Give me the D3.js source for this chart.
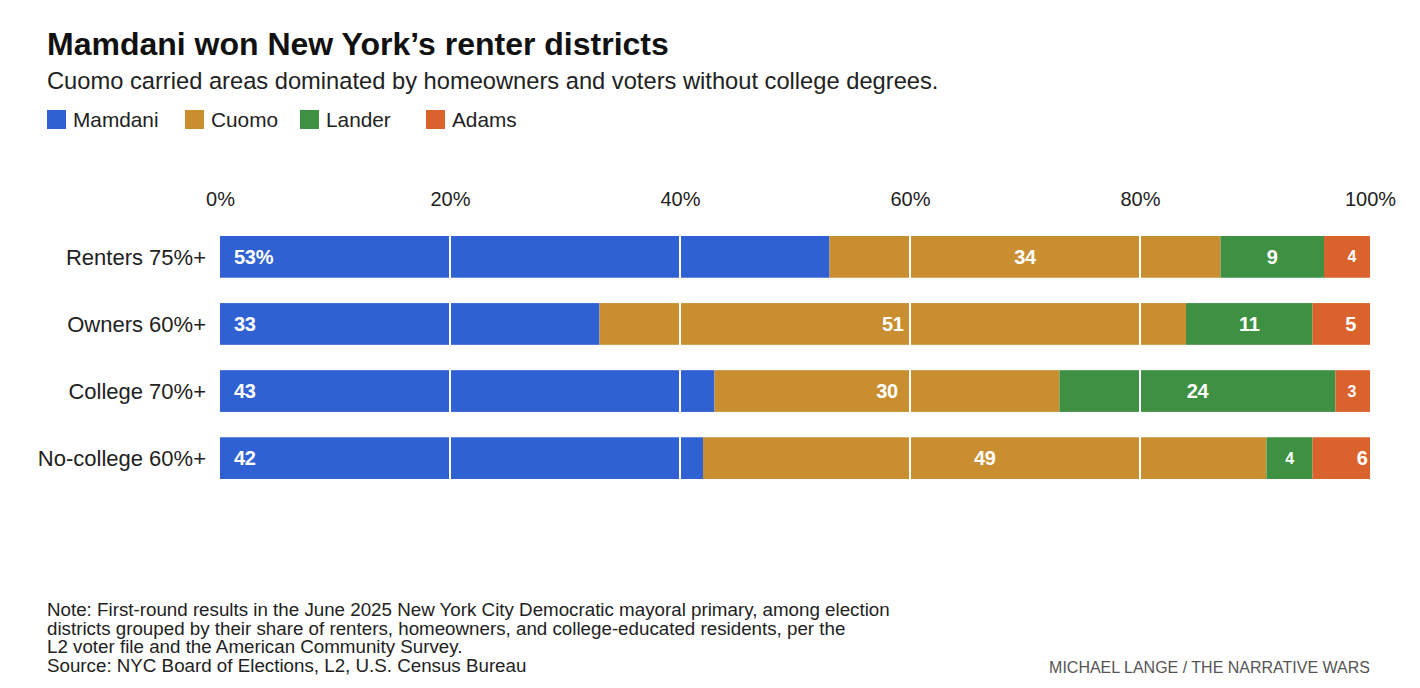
<!DOCTYPE html>
<html>
<head>
<meta charset="utf-8">
<script src="https://cdn.jsdelivr.net/npm/d3@7"></script>
<style>
  body { margin: 0; background: #fff; }
  svg { font-family: "Liberation Sans", Arial, sans-serif; display: block; }
</style>
</head>
<body>
<div id="chart"></div>
<script>
// data
const groups = ["Renters 75%+", "Owners 60%+", "College 70%+", "No-college 60%+"];
const candidates = ["Mamdani", "Cuomo", "Lander", "Adams"];
const mamdani = [53, 33, 43, 42];
const cuomo = [34, 51, 30, 49];
const lander = [9, 11, 24, 4];
const adams = [4, 5, 3, 6];
const tickValues = [0, 20, 40, 60, 80, 100];
const gridValues = [20, 40, 60, 80];

const colors = ["#3061d2", "#c88e2f", "#3e9142", "#da622c"];
const series = [mamdani, cuomo, lander, adams];

const rows = groups.map((g, i) => {
  let r = { group: g };
  candidates.forEach((c, j) => r[c] = series[j][i]);
  return r;
});

const W = 1420, H = 688;
const svg = d3.select('#chart').append('svg')
  .attr('width', W).attr('height', H)
  .attr('viewBox', `0 0 ${W} ${H}`);

// header
svg.append('text').attr('x', 47).attr('y', 55)
  .attr('font-size', 32).attr('font-weight', 700).attr('fill', '#111')
  .text("Mamdani won New York’s renter districts");
svg.append('text').attr('x', 47).attr('y', 89)
  .attr('font-size', 23.7).attr('fill', '#222')
  .text("Cuomo carried areas dominated by homeowners and voters without college degrees.");

// legend
const legendX = [47, 185, 300, 426];
const legend = svg.append('g').selectAll('g').data(candidates).join('g')
  .attr('transform', (d, i) => `translate(${legendX[i]},110)`);
legend.append('rect').attr('width', 19).attr('height', 19).attr('fill', (d, i) => colors[i]);
legend.append('text').attr('x', 26).attr('y', 17)
  .attr('font-size', 20.8).attr('fill', '#222').text(d => d);

// scales
const x = d3.scaleLinear().domain([0, 100]).range([220, 1370]).clamp(true);
const xRaw = d3.scaleLinear().domain([0, 100]).range([220, 1370]);
const y = d3.scaleBand().domain(groups).range([236, 479]).paddingInner(0.378).paddingOuter(0);

// top axis
const axis = svg.append('g').attr('transform', 'translate(0,206)')
  .call(d3.axisTop(x).tickValues(tickValues).tickFormat(d => d + '%').tickSize(0).tickPadding(0));
axis.select('.domain').remove();
axis.selectAll('text').attr('font-size', 20).attr('fill', '#222')
  .attr('font-family', '"Liberation Sans", Arial, sans-serif').attr('dy', 0);

// row labels
svg.append('g').selectAll('text').data(groups).join('text')
  .attr('x', 206).attr('y', d => y(d) + y.bandwidth() / 2)
  .attr('dy', '0.36em').attr('text-anchor', 'end')
  .attr('font-size', 22).attr('fill', '#222').text(d => d);

// stacked bars
const stacked = d3.stack().keys(candidates)(rows);
const layers = svg.append('g').selectAll('g').data(stacked).join('g')
  .attr('fill', (d, i) => colors[i]);
layers.selectAll('rect').data(d => d).join('rect')
  .attr('x', d => x(d[0]))
  .attr('y', d => y(d.data.group))
  .attr('width', d => x(d[1]) - x(d[0]))
  .attr('height', y.bandwidth());

// white gridlines over bars
svg.append('g').selectAll('line').data(gridValues).join('line')
  .attr('x1', d => x(d)).attr('x2', d => x(d))
  .attr('y1', y.range()[0]).attr('y2', y.range()[1])
  .attr('stroke', '#fff').attr('stroke-width', 2);

// value labels
const last = candidates.length - 1;
stacked.forEach((layer, k) => {
  svg.append('g').selectAll('text').data(layer).join('text')
    .attr('x', d => {
      if (k === 0) return x(d[0]) + 14;
      if (k === last) return xRaw(d[1]) - 14;
      return (x(d[0]) + x(d[1])) / 2;
    })
    .attr('y', d => y(d.data.group) + y.bandwidth() / 2)
    .attr('dy', '0.35em')
    .attr('text-anchor', k === 0 ? 'start' : (k === last ? 'end' : 'middle'))
    .attr('font-size', d => (d[1] - d[0]) < 5 ? 16 : 20)
    .attr('font-weight', 700).attr('fill', '#fff')
    .attr('letter-spacing', -0.3)
    .text((d, i) => (d[1] - d[0]) + (k === 0 && i === 0 ? '%' : ''));
});

// footer
const notes = [
  "Note: First-round results in the June 2025 New York City Democratic mayoral primary, among election",
  "districts grouped by their share of renters, homeowners, and college-educated residents, per the",
  "L2 voter file and the American Community Survey.",
  "Source: NYC Board of Elections, L2, U.S. Census Bureau"
];
svg.append('g').selectAll('text').data(notes).join('text')
  .attr('x', 47).attr('y', (d, i) => 616 + i * 18.7)
  .attr('font-size', 18.75).attr('fill', '#222').text(d => d);

svg.append('text').attr('x', 1370).attr('y', 673)
  .attr('text-anchor', 'end').attr('font-size', 16).attr('fill', '#555')
  .text("MICHAEL LANGE / THE NARRATIVE WARS");
</script>
</body>
</html>
